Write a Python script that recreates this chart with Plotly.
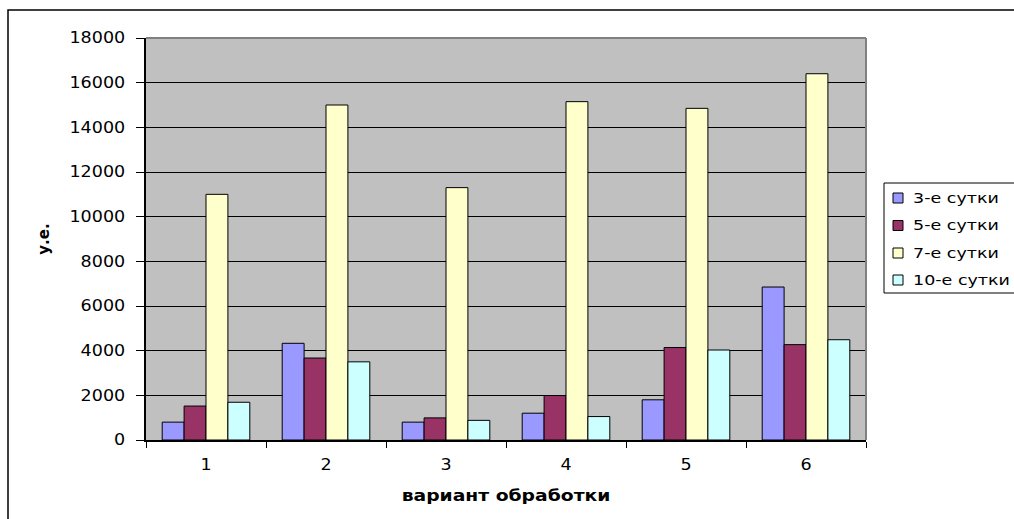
import plotly.graph_objects as go

# Data: treatment variants and measurements per day
categories = ["1", "2", "3", "4", "5", "6"]
series_names = ["3-е сутки", "5-е сутки", "7-е сутки", "10-е сутки"]
day3 = [800, 4330, 800, 1200, 1800, 6850]
day5 = [1520, 3670, 990, 1990, 4140, 4270]
day7 = [11000, 15000, 11300, 15150, 14850, 16400]
day10 = [1690, 3500, 880, 1050, 4030, 4490]
y_ticks = [0, 2000, 4000, 6000, 8000, 10000, 12000, 14000, 16000, 18000]

colors = ["#9999FF", "#993366", "#FFFFCC", "#CCFFFF"]
FONT = "DejaVu Sans"

W, H = 1014, 519
ML, MR, MT, MB = 146, 148, 38, 79
PW, PH = W - ML - MR, H - MT - MB


def px_x(v):
    return (v - ML) / PW


def px_y(v):
    return (H - MB - v) / PH


fig = go.Figure()
for name, vals, col in zip(series_names, [day3, day5, day7, day10], colors):
    fig.add_trace(go.Bar(
        x=categories, y=vals, name=name,
        marker=dict(color=col, line=dict(color="black", width=1)),
        showlegend=False,
    ))

shapes = []
annotations = []

# outer chart frame
shapes.append(dict(type="rect", xref="paper", yref="paper",
                   x0=px_x(8), x1=px_x(1030), y0=px_y(540), y1=px_y(10),
                   line=dict(color="black", width=1.5), fillcolor="rgba(0,0,0,0)",
                   layer="below"))
# plot area top/right border
shapes.append(dict(type="line", xref="paper", yref="paper", x0=0, x1=1, y0=1, y1=1,
                   line=dict(color="#808080", width=2)))
shapes.append(dict(type="line", xref="paper", yref="paper", x0=1, x1=1, y0=0, y1=1,
                   line=dict(color="#808080", width=2)))

# legend box
shapes.append(dict(type="rect", xref="paper", yref="paper",
                   x0=px_x(884), x1=px_x(1030), y0=px_y(293), y1=px_y(183),
                   line=dict(color="black", width=1), fillcolor="white"))
row_y = [198, 225.5, 253, 280]
for name, col, ry in zip(series_names, colors, row_y):
    shapes.append(dict(type="rect", xref="paper", yref="paper",
                       x0=px_x(893), x1=px_x(903), y0=px_y(ry + 5), y1=px_y(ry - 5),
                       line=dict(color="black", width=1), fillcolor=col))
    annotations.append(dict(xref="paper", yref="paper", x=px_x(911), y=px_y(ry),
                            text=name, showarrow=False, xanchor="left", yanchor="middle",
                            font=dict(family=FONT, size=14, color="black")))

fig.update_layout(
    width=W, height=H,
    margin=dict(l=ML, r=MR, t=MT, b=MB, pad=0),
    paper_bgcolor="white",
    plot_bgcolor="#C0C0C0",
    barmode="group",
    bargap=0.27,
    bargroupgap=0,
    showlegend=False,
    shapes=shapes,
    annotations=annotations,
    font=dict(family=FONT, size=15, color="black"),
)

fig.update_xaxes(
    type="category",
    showgrid=False,
    showline=True, linecolor="black", linewidth=1.5,
    ticks="outside", ticklen=6, tickcolor="black", tickwidth=1,
    tickson="boundaries",
    ticklabelstandoff=10,
    tickfont=dict(family=FONT, size=15),
    title=dict(text="<b>вариант обработки</b>", font=dict(family=FONT, size=15), standoff=18),
)

fig.update_yaxes(
    range=[0, 18000],
    tickvals=y_ticks,
    ticktext=[str(v) for v in y_ticks],
    showgrid=True, gridcolor="black", gridwidth=1,
    zeroline=False,
    showline=True, linecolor="black", linewidth=1.5,
    ticks="outside", ticklen=8, tickcolor="black", tickwidth=1,
    ticklabelstandoff=8,
    tickfont=dict(family=FONT, size=15),
    title=dict(text="<b>у.е.</b>", font=dict(family=FONT, size=15), standoff=24),
)

# widen horizontal text glyphs about their anchor point (rotated titles untouched)
widen_text = """
var gd = document.getElementById('{plot_id}');
gd.querySelectorAll('svg text').forEach(function(t) {
  var tr = t.getAttribute('transform') || '';
  if (tr.indexOf('rotate') !== -1) { return; }
  var isTick = t.classList.contains('xtick') || t.classList.contains('ytick') ||
               (t.parentNode && t.parentNode.classList &&
                (t.parentNode.classList.contains('xtick') || t.parentNode.classList.contains('ytick')));
  var s = isTick ? 1.17 : 1.25;
  var x;
  if (t.closest('.annotation')) {
    x = t.getBBox().x;
  } else {
    x = parseFloat(t.getAttribute('x')) || 0;
  }
  t.setAttribute('transform', tr + ' translate(' + x + ',0) scale(' + s + ',1) translate(' + (-x) + ',0)');
});
"""

fig.write_html("out.html", post_script=widen_text)
